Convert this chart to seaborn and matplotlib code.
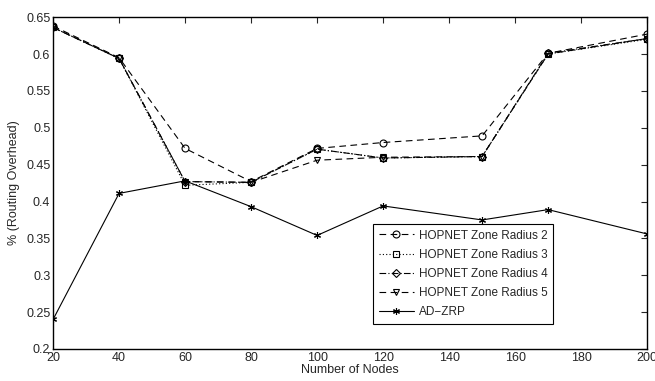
import matplotlib
matplotlib.use("Agg")
import matplotlib.pyplot as plt
import seaborn as sns
import pandas as pd

nodes = [20, 40, 60, 80, 100, 120, 150, 170, 200]
radius2 = [0.638, 0.595, 0.472, 0.427, 0.472, 0.480, 0.489, 0.601, 0.627]
radius3 = [0.636, 0.594, 0.422, 0.426, 0.471, 0.459, 0.461, 0.600, 0.620]
radius4 = [0.636, 0.594, 0.427, 0.426, 0.471, 0.459, 0.461, 0.601, 0.621]
radius5 = [0.636, 0.594, 0.427, 0.426, 0.456, 0.460, 0.461, 0.600, 0.621]
adzrp = [0.240, 0.411, 0.428, 0.393, 0.354, 0.394, 0.375, 0.389, 0.356]

series = [
    ("HOPNET Zone Radius 2", radius2, (0, (6, 4)), "o"),
    ("HOPNET Zone Radius 3", radius3, (0, (1, 2)), "s"),
    ("HOPNET Zone Radius 4", radius4, (0, (6, 2, 1, 2)), "D"),
    ("HOPNET Zone Radius 5", radius5, (0, (6, 4)), "v"),
    ("AD\u2212ZRP", adzrp, "-", (6, 2, 0)),
]

sns.set_style("white")
plt.rcParams["font.family"] = ["Liberation Sans", "DejaVu Sans"]

fig = plt.figure(figsize=(6.55, 3.81), dpi=100)
ax = fig.add_axes([0.081, 0.084, 0.907, 0.871])

for name, vals, ls, mk in series:
    df = pd.DataFrame({"x": nodes, "y": vals})
    sns.lineplot(data=df, x="x", y="y", ax=ax, color="black", linewidth=0.8,
                 linestyle=ls, marker=mk, markersize=5 if mk != "D" else 4.5,
                 markerfacecolor="none",
                 markeredgecolor="black", markeredgewidth=0.8, label=name)

ax.set_xlim(20, 200)
ax.set_ylim(0.2, 0.65)
ax.set_xticks([20, 40, 60, 80, 100, 120, 140, 160, 180, 200])
ax.set_yticks([0.2, 0.25, 0.3, 0.35, 0.4, 0.45, 0.5, 0.55, 0.6, 0.65])
ax.set_yticklabels(["0.2", "0.25", "0.3", "0.35", "0.4", "0.45", "0.5", "0.55", "0.6", "0.65"])
ax.tick_params(direction="in", top=True, right=True, length=4, width=0.8, labelsize=9, pad=2)
for s in ax.spines.values():
    s.set_visible(True)
    s.set_color("black")
    s.set_linewidth(1.0)
ax.set_xlabel("Number of Nodes", fontsize=9, labelpad=0)
ax.set_ylabel("% (Routing Overhead)", fontsize=9, labelpad=4)

leg = ax.legend(loc="lower left", bbox_to_anchor=(0.528, 0.058), fontsize=8.5,
                frameon=True, fancybox=False, edgecolor="black", framealpha=1,
                handlelength=3.0, borderpad=0.5, labelspacing=0.6, handletextpad=0.4)
leg.get_frame().set_linewidth(0.8)

fig.savefig("out.png", dpi=100)
